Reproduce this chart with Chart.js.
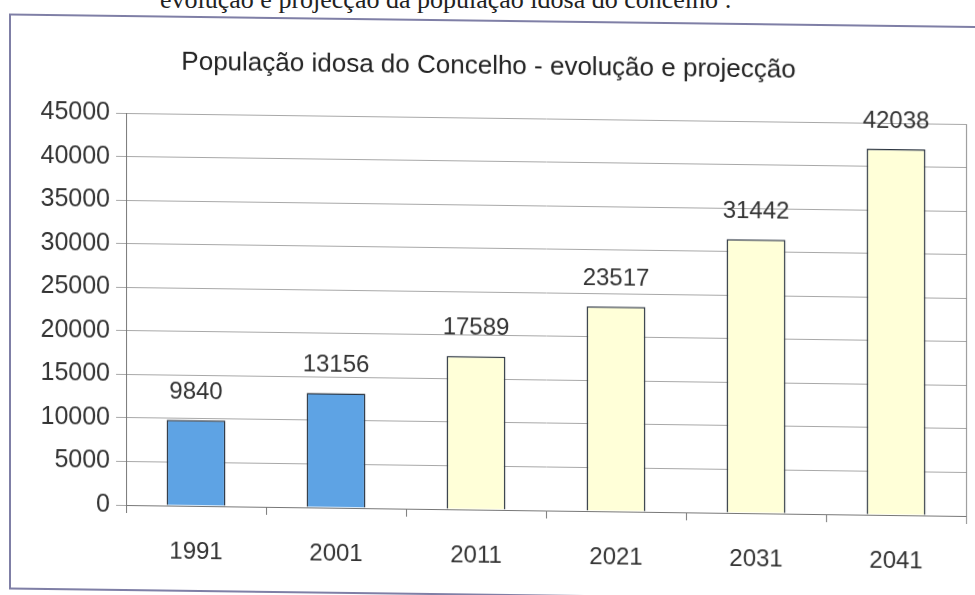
<!DOCTYPE html>
<html lang="pt">
<head>
<meta charset="utf-8">
<script src="https://cdn.jsdelivr.net/npm/chart.js@4"></script>
<style>
    html, body { margin: 0; padding: 0; background: #ffffff; }
    body { width: 975px; height: 595px; position: relative; overflow: hidden; }
    #topo {
        position: absolute; left: 160px; top: -15px;
        font-family: "Liberation Serif", "Times New Roman", serif;
        font-size: 26px; color: #222; white-space: nowrap;
    }
    #caixa {
        position: absolute; left: 9px; top: 15px;
        width: 980px; height: 572px;
        border: 2px solid #7f7fa6; background: #fff;
        /* o original é uma digitalização ligeiramente inclinada */
        transform-origin: 117px 0;
        transform: skewY(0.75deg);
    }
</style>
</head>
<body>
<div id="topo">evolução e projecção da população idosa do concelho :</div>
<div id="caixa"><canvas id="graficoIdosos" width="960" height="572"></canvas></div>
<script>
// Dados
const anos = ['1991', '2001', '2011', '2021', '2031', '2041'];
const populacao = [9840, 13156, 17589, 23517, 31442, 42038];
const ticksY = [0, 5000, 10000, 15000, 20000, 25000, 30000, 35000, 40000, 45000];

// Cores: azul para valores observados, amarelo para projecções
const coresBarras = ['#5ea3e4', '#5ea3e4', '#ffffd8', '#ffffd8', '#ffffd8', '#ffffd8'];

const fonte = '"Liberation Sans", Arial, sans-serif';

// Escreve o valor por cima de cada barra e a linha do lado direito
const rotulosValores = {
    id: 'rotulosValores',
    afterDatasetsDraw(chart) {
        const ctx = chart.ctx;
        const meta = chart.getDatasetMeta(0);
        const area = chart.chartArea;
        ctx.save();
        ctx.strokeStyle = '#8a8a8a';
        ctx.lineWidth = 1;
        ctx.beginPath();
        ctx.moveTo(area.right + 0.5, area.top);
        ctx.lineTo(area.right + 0.5, area.bottom + 8);
        ctx.stroke();

        ctx.font = '24px ' + fonte;
        ctx.fillStyle = '#333';
        ctx.textAlign = 'center';
        ctx.textBaseline = 'middle';
        meta.data.forEach((barra, i) => {
            ctx.fillText(String(populacao[i]), barra.x, barra.y - 28);
        });
        ctx.restore();
    }
};

window.addEventListener("DOMContentLoaded", () => {
    const canvas = document.getElementById('graficoIdosos');
    if (!canvas) {
        console.warn("Canvas do gráfico não encontrado!");
        return;
    }

    const ctx = canvas.getContext('2d');
    new Chart(ctx, {
        type: 'bar',
        data: {
            labels: anos,
            datasets: [{
                data: populacao,
                backgroundColor: coresBarras,
                borderColor: '#2b3440',
                borderWidth: 1.5,
                categoryPercentage: 1,
                barPercentage: 0.42
            }]
        },
        options: {
            responsive: false,
            animation: false,
            layout: { padding: { left: 0, right: 5, top: 0, bottom: 0 } },
            plugins: {
                legend: { display: false },
                tooltip: { enabled: false },
                title: {
                    display: true,
                    text: 'População idosa do Concelho - evolução e projecção',
                    color: '#222',
                    font: { family: fonte, size: 26, weight: 'normal', lineHeight: 1.2 },
                    padding: { top: 29, bottom: 36 }
                }
            },
            scales: {
                x: {
                    grid: {
                        drawOnChartArea: false,
                        drawTicks: true,
                        tickLength: 8,
                        color: '#777'
                    },
                    border: { color: '#777', width: 1 },
                    ticks: {
                        color: '#333',
                        padding: 24,
                        font: { family: fonte, size: 24 }
                    },
                    afterFit(scale) { scale.height = 84; }
                },
                y: {
                    min: 0,
                    max: 45000,
                    afterBuildTicks(scale) {
                        scale.ticks = ticksY.map(v => ({ value: v }));
                    },
                    grid: {
                        color: '#a8a8a8',
                        tickLength: 10,
                        lineWidth: 1
                    },
                    border: { color: '#777', width: 1 },
                    ticks: {
                        color: '#333',
                        padding: 6,
                        font: { family: fonte, size: 25 },
                        callback: (v) => String(v)
                    },
                    afterFit(scale) { scale.width = 115; }
                }
            }
        },
        plugins: [rotulosValores]
    });
});
</script>
</body>
</html>
